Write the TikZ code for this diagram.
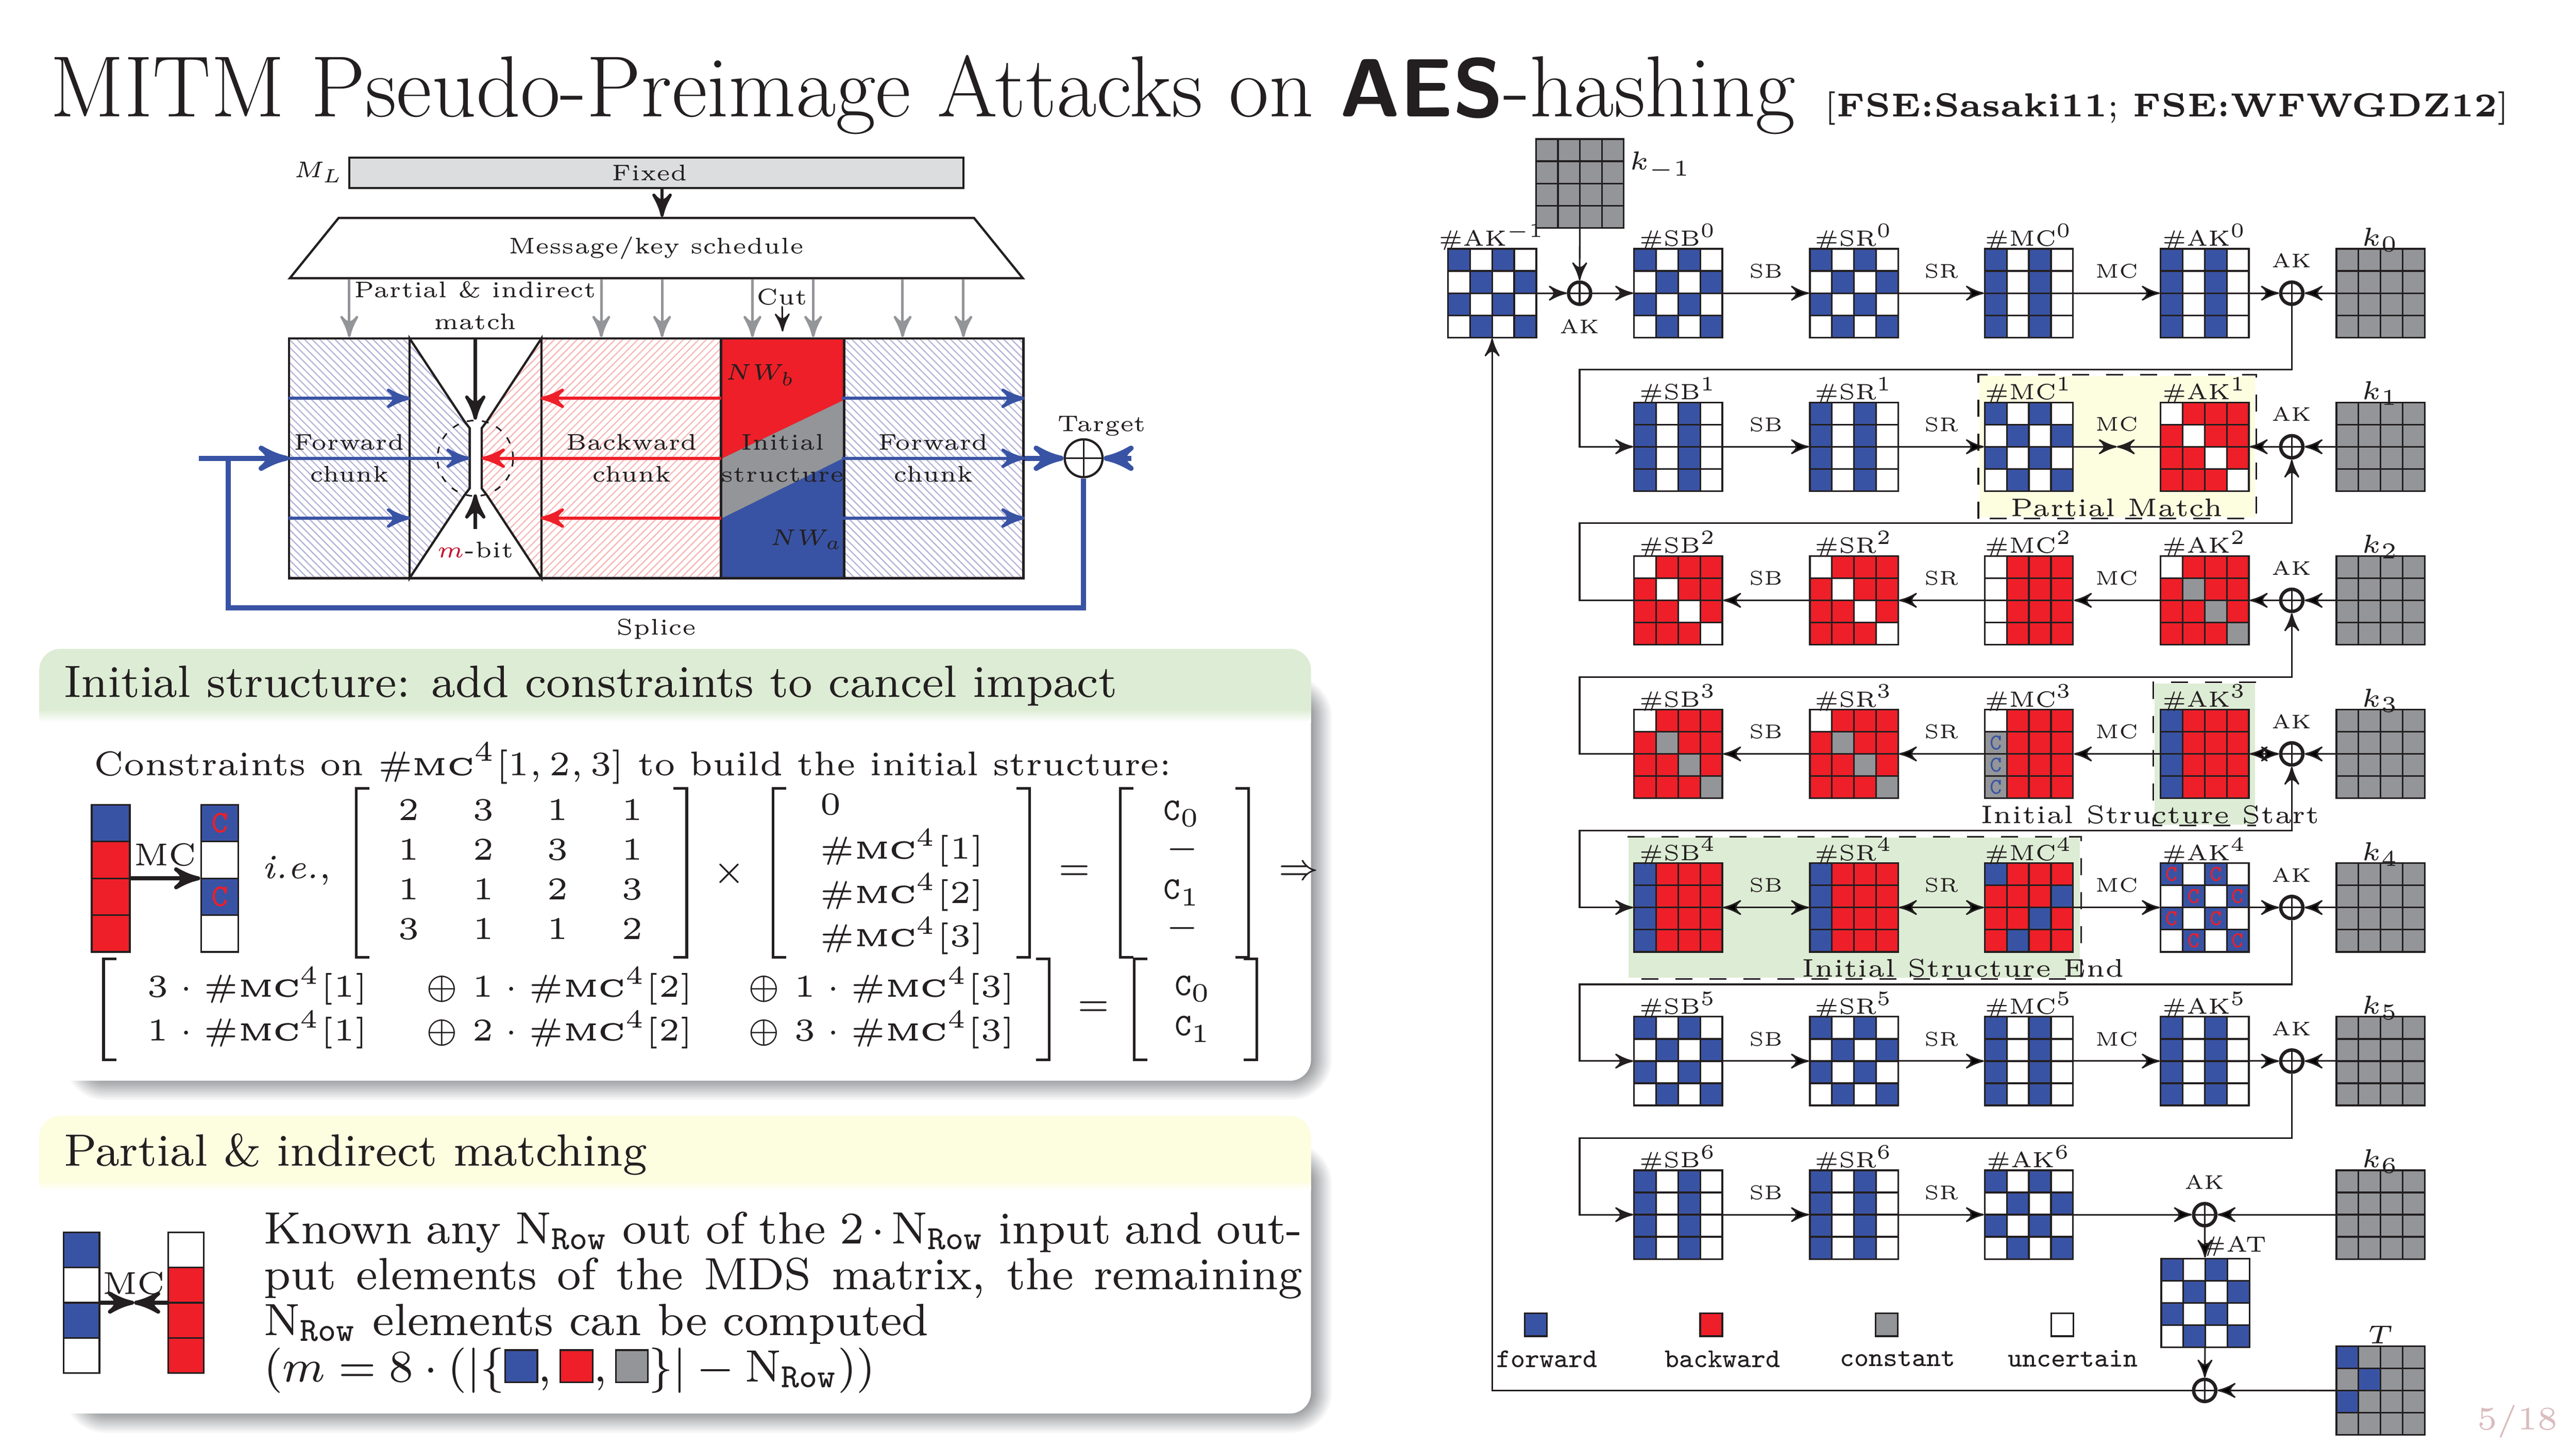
\documentclass[tikz,border=0pt]{standalone}
\usepackage{fix-cm}
\usepackage{amsmath}
\usetikzlibrary{arrows}
\usetikzlibrary{calc}
\usetikzlibrary{patterns.meta}
\usetikzlibrary{shapes.geometric}

\DeclareMathSizes{3.9}{3.9}{3.6}{3}
\DeclareMathSizes{4}{4}{3.4}{3}
\DeclareMathSizes{4.6}{4.6}{4}{3}
\DeclareMathSizes{5.6}{5.6}{4.6}{4}
\DeclareMathSizes{6.05}{6.05}{5}{4}

\definecolor{ink}{HTML}{231F20}
\definecolor{keyblue}{HTML}{3953A4}
\definecolor{keyred}{HTML}{EE1F28}
\definecolor{keygray}{HTML}{939598}
\definecolor{fixedgray}{HTML}{DCDDDE}
\definecolor{hatchblue}{HTML}{B1B0D8}
\definecolor{hatchred}{HTML}{F8B4B4}
\definecolor{zonegreen}{HTML}{DDECD4}
\definecolor{zoneyellow}{HTML}{FDFDE0}
\definecolor{shadowgray}{HTML}{939598}
\definecolor{pagepink}{HTML}{D9BCBE}
\definecolor{mbit}{HTML}{C4122F}

\newcommand{\uu}{0.29033pt}
\newcommand{\labelfont}{\fontsize{3.9}{4.4}\selectfont}
\newcommand{\opfont}{\fontsize{3.5}{4}\selectfont}
\newcommand{\keyfont}{\fontsize{4.6}{5.2}\selectfont}
\newcommand{\cellfont}{\fontsize{4}{4.5}\selectfont}
\newcommand{\diagfont}{\fontsize{4}{5.65}\selectfont}
\newcommand{\bodyfont}{\fontsize{6.05}{7}\selectfont}
\newcommand{\mtxfont}{\fontsize{5.6}{6}\selectfont}
\newcommand{\headfont}{\fontsize{8}{8.13}\selectfont}

\newcommand{\celltextp}{\textcolor{keyred}{\texttt{C}}}
\newcommand{\celltextq}{\textcolor{keyblue}{\texttt{C}}}
\newcommand{\mcterm}{\#\mbox{\fontsize{4.4}{5}\selectfont\bfseries MC}}
\newcommand{\nrow}{\mathrm{N}_{\mathtt{Row}}}
\newcommand{\kcell}[1]{{\fboxsep=0pt\fboxrule=.3pt\fcolorbox{ink}{#1}{\rule{0pt}{5.4pt}\hspace{5.4pt}}}}

\newcommand{\patchk}{b,w,b,w,w,b,w,b,b,w,b,w,w,b,w,b}
\newcommand{\patstr}{b,w,b,w,b,w,b,w,b,w,b,w,b,w,b,w}
\newcommand{\patdiw}{w,r,r,r,r,w,r,r,r,r,w,r,r,r,r,w}
\newcommand{\patdig}{w,r,r,r,r,g,r,r,r,r,g,r,r,r,r,g}
\newcommand{\patwcol}{w,r,r,r,w,r,r,r,w,r,r,r,w,r,r,r}
\newcommand{\patqcol}{w,r,r,r,q,r,r,r,q,r,r,r,q,r,r,r}
\newcommand{\patbcol}{b,r,r,r,b,r,r,r,b,r,r,r,b,r,r,r}
\newcommand{\patmcf}{b,r,r,r,r,r,r,b,r,r,b,r,r,b,r,r}
\newcommand{\patcchk}{p,w,p,w,w,p,w,p,p,w,p,w,w,p,w,p}
\newcommand{\patgry}{g,g,g,g,g,g,g,g,g,g,g,g,g,g,g,g}
\newcommand{\pattgt}{b,g,g,g,g,b,g,g,b,g,g,g,g,g,g,g}

\tikzset{
  cellbase/.style={inner sep=0pt,outer sep=0pt,draw=ink,line width=.3pt,font=\cellfont},
  cellb/.style={fill=keyblue},
  cellr/.style={fill=keyred},
  cellg/.style={fill=keygray},
  cellw/.style={fill=white},
  cellp/.style={fill=keyblue},
  cellq/.style={fill=keygray},
  gridframe/.style={draw=ink,line width=.3pt,inner sep=0pt},
  statelabel/.style={anchor=base,inner sep=0pt,font=\labelfont,text=ink},
  keylabel/.style={anchor=base,inner sep=0pt,font=\keyfont,text=ink},
  oplabel/.style={above=2.5pt,inner sep=0pt,font=\opfont,text=ink},
  aklabel/.style={inner sep=0pt,font=\opfont,text=ink},
  conn/.style={draw=ink,line width=.28pt},
  xorop/.style={circle,draw=ink,fill=white,line width=.6pt,inner sep=0pt,minimum size=13.5*\uu,
    path picture={\draw[line width=.28pt]
      (path picture bounding box.north) -- (path picture bounding box.south)
      (path picture bounding box.west) -- (path picture bounding box.east);}},
  diagtext/.style={inner sep=0pt,align=center,font=\diagfont,text=ink},
  hatchf/.style={diagtext,pattern={Lines[angle=-45,distance=.95pt,line width=.2pt]},pattern color=hatchblue},
  hatchb/.style={diagtext,pattern={Lines[angle=45,distance=.95pt,line width=.2pt]},pattern color=hatchred},
  thinblue/.style={draw=keyblue,line width=.55pt,->},
  thinred/.style={draw=keyred,line width=.55pt,->},
  thickblue/.style={draw=keyblue,line width=.9pt},
  grayarrow/.style={draw=keygray,line width=.45pt,->},
  bracket/.style={draw=ink,line width=.48pt},
  boxtext/.style={anchor=base west,inner sep=0pt,font=\bodyfont,text=ink},
  mtx/.style={anchor=base,inner sep=0pt,font=\mtxfont,text=ink},
  zonetext/.style={inner sep=0pt,font=\fontsize{4.5}{5}\selectfont,text=ink},
  legendkey/.style={draw=ink,line width=.3pt,inner sep=0pt,minimum width=13.5*\uu,minimum height=14*\uu},
  legendtext/.style={inner sep=0pt,font=\fontsize{4.8}{5}\selectfont\ttfamily,text=ink}
}

\newcommand{\cellgrid}[7]{%
  \foreach \cl [count=\n from 0] in #7 {
    \pgfmathtruncatemacro\cc{mod(\n,#4)}
    \pgfmathtruncatemacro\rr{int(\n/#4)}
    \node[cellbase,cell\cl,minimum width=#5*\uu,minimum height=#6*\uu] (#1-\n) at ({#2+(\cc+.5-#4/2)*#5},{#3+(\rr-1.5)*#6}) {\csname celltext\cl\endcsname};
  }
  \node[gridframe,minimum width=#4*#5*\uu,minimum height=4*#6*\uu] (#1) at (#2,#3) {};
}
\newcommand{\statenode}[6]{%
  \cellgrid{#1}{#2}{#3}{4}{13.43}{13.5}{#4}
  \node[statelabel] (lab#1) at ([yshift=.35pt]#1.north) {$\#\mathrm{#5}^{#6}$};
}
\newcommand{\slidebox}[6]{%
  \foreach \i in {0,...,14} {
    \pgfmathsetmacro\pc{\i*100/14}
    \pgfmathsetmacro\rd{(26-\i)*0.29033}
    \fill[shadowgray!\pc!white,rounded corners=\rd pt] (38+\i,#2+15.6+\i) rectangle (811.7-\i,#3+12.7-\i);
  }
  \fill[white,rounded corners=13*\uu] (23.9,#2) rectangle (798,#3);
  \begin{scope}
    \clip (23.9,#2) rectangle (798,#4);
    \fill[#1,rounded corners=13*\uu] (23.9,#2) rectangle (798,#4+30);
  \end{scope}
  \shade[top color=#1,bottom color=white] (23.9,#4) rectangle (798,#5);
  \node[anchor=base west,inner sep=0pt,font=\headfont,text=ink] (head#1) at (38.3,#6) {\csname boxhead#1\endcsname};
}
\newcommand{\boxheadzonegreen}{Initial structure: add constraints to cancel impact}
\newcommand{\boxheadzoneyellow}{Partial \& indirect matching}

\begin{document}
\begin{tikzpicture}[x=\uu,y=-\uu,>=stealth']
  \useasboundingbox (0,0) rectangle (1568,882);
  \fill[white] (0,0) rectangle (1568,882);

  \node[anchor=base west,inner sep=0pt,font=\fontsize{15.35}{16}\selectfont,text=ink] (slidetitle) at (30,71)
    {MITM Pseudo-Preimage Attacks on {\fontsize{14.6}{16}\selectfont\sffamily\bfseries AES}-hashing};
  \node[anchor=base west,inner sep=0pt,font=\fontsize{5.9}{8}\selectfont,text=ink] (slidecite) at (1110,71)
    {[\textbf{FSE:Sasaki11}; \textbf{FSE:WFWGDZ12}]};

  \begin{scope}
    \node[draw=ink,fill=fixedgray,line width=.4pt,inner sep=0pt,minimum width=373.8*\uu,minimum height=18.5*\uu] (fixed) at (399.5,105.25) {};
    \node[diagtext] (fixedtext) at (395.5,105.25) {Fixed};
    \node[diagtext] (mlabel) at (194,105) {$M_L$};
    \node[trapezium,draw=ink,line width=.4pt,trapezium stretches=true,trapezium left angle=45,trapezium right angle=45,inner sep=0pt,minimum width=447*\uu,minimum height=36.7*\uu,font=\diagfont,text=ink] (keysched) at (399.5,151.05) {Message/key schedule};
    \draw[->,draw=ink,line width=.55pt] (403,0 |- fixed.south) -- (403,0 |- keysched.north);

    \node[hatchf,minimum width=73.3*\uu,minimum height=146*\uu] (fwdone) at (212.65,279) {Forward\\chunk};
    \node[hatchb,minimum width=110.1*\uu,minimum height=146*\uu] (bwd) at (384.55,279) {Backward\\chunk};
    \node[hatchf,minimum width=109.8*\uu,minimum height=146*\uu] (fwdtwo) at (568.1,279) {Forward\\chunk};

    \fill[pattern={Lines[angle=-45,distance=.95pt,line width=.2pt]},pattern color=hatchblue]
      (249.3,206) -- (282.5,256.2) -- (285.9,260.7) -- (285.9,297.3) -- (282.5,301.8) -- (249.3,352) -- cycle;
    \fill[pattern={Lines[angle=45,distance=.95pt,line width=.2pt]},pattern color=hatchred]
      (329.6,206) -- (296.6,256.2) -- (293.2,260.7) -- (293.2,297.3) -- (296.6,301.8) -- (329.6,352) -- cycle;
    \draw[draw=ink,line width=.4pt]
      (249.3,206) -- (282.5,256.2) -- (285.9,260.7) -- (285.9,297.3) -- (282.5,301.8) -- (249.3,352) -- cycle
      (329.6,206) -- (296.6,256.2) -- (293.2,260.7) -- (293.2,297.3) -- (296.6,301.8) -- (329.6,352) -- cycle;

    \fill[keyblue] (439.6,206) rectangle (513.2,352);
    \fill[keygray] (439.6,279) -- (513.2,243.7) -- (513.2,279) -- (439.6,315.4) -- cycle;
    \fill[keyred] (439.6,206) -- (513.2,206) -- (513.2,243.7) -- (439.6,279) -- cycle;
    \node[inner sep=0pt,minimum width=73.6*\uu,minimum height=146*\uu] (initst) at (476.4,279) {};
    \node[diagtext] (inittext) at (476.4,279) {Initial\\structure};
    \node[diagtext] (nwb) at (463,228.4) {$NW_b$};
    \node[diagtext] (nwa) at (491,328.5) {$NW_a$};
    \node[draw=ink,line width=.4pt,inner sep=0pt,minimum width=447*\uu,minimum height=146*\uu] (mainbox) at (399.5,279) {};
    \draw[draw=ink,line width=.4pt] (initst.north west) -- (initst.south west) (initst.north east) -- (initst.south east);

    \foreach \gx in {212.6,366,403,458,495,549.4,586.4}
      \draw[grayarrow] (\gx,0 |- keysched.south) -- (\gx,0 |- mainbox.north);

    \node[diagtext] (pimatch) at (289.3,186) {Partial \& indirect\\match};
    \node[diagtext] (cutlabel) at (476,180.7) {Cut};
    \draw[->,draw=ink,line width=.28pt,shorten >=1pt] (cutlabel) -- (initst.north);

    \coordinate (waistl) at (285.9,279);
    \coordinate (waistr) at (293.2,279);
    \coordinate (waisttop) at (289.3,255.5);
    \coordinate (waistbot) at (289.3,301);
    \coordinate (mbitfoot) at (289.3,322);
    \coordinate (inlet) at (121,279);
    \coordinate (outlet) at (688.6,279);
    \coordinate (splicea) at (139,279);
    \coordinate (spliceb) at (139,370);
    \node[diagtext] (mbitlabel) at (289.3,334.8) {$\textcolor{mbit}{m}$-bit};
    \node[circle,draw=ink,line width=.28pt,dash pattern=on 1.2pt off 1.5pt,inner sep=0pt,minimum size=46*\uu] (matchring) at (289.3,279) {};
    \draw[->,draw=ink,line width=.6pt] (289.3,0 |- mainbox.north) -- (waisttop);
    \draw[->,draw=ink,line width=.6pt] (mbitfoot) -- (waistbot);

    \foreach \ay in {242.5,315.4} {
      \draw[thinblue] (fwdone.west |- 0,\ay) -- (fwdone.east |- 0,\ay);
      \draw[thinblue] (fwdtwo.west |- 0,\ay) -- (fwdtwo.east |- 0,\ay);
      \draw[thinred] (initst.west |- 0,\ay) -- (bwd.west |- 0,\ay);
    }
    \draw[thinblue] (fwdone.west) -- (waistl);
    \draw[thinblue] (fwdtwo.west) -- (fwdtwo.east);
    \draw[thinred] (initst.west) -- (waistr);

    \node[xorop,line width=.4pt,minimum size=23*\uu] (xtarget) at (659.6,279) {};
    \draw[thickblue,->] (inlet) -- (fwdone.west);
    \draw[thickblue,->] (fwdtwo.east) -- (xtarget);
    \draw[thickblue,->] (outlet) -- (xtarget);
    \draw[thickblue] (splicea) -- (spliceb) -| (xtarget);
    \node[diagtext] (targetlabel) at (670.7,259.5) {Target};
    \node[diagtext] (splicelabel) at (399.5,383) {Splice};
  \end{scope}

  \begin{scope}
    \slidebox{zonegreen}{395}{658}{432}{439.8}{424.6}
    \node[boxtext] (consline) at (56.6,472.1) {Constraints on $\mcterm^4[1,2,3]$ to build the initial structure:};

    \renewcommand{\cellfont}{\fontsize{5.6}{6}\selectfont}
    \newcommand{\patmcin}{b,r,r,r}
    \newcommand{\patmcout}{p,w,p,w}
    \cellgrid{mcin}{67.4}{534.75}{1}{23.2}{22.4}{\patmcin}
    \cellgrid{mcout}{133.7}{534.75}{1}{22.6}{22.4}{\patmcout}
    \draw[->,draw=ink,line width=.7pt] (mcin) -- (mcout);
    \node[inner sep=0pt,font=\mtxfont,text=ink] (mclabel) at (100.7,520.5) {MC};
    \node[inner sep=0pt,font=\bodyfont,text=ink] (ielabel) at (180.7,530) {\textit{i.e.},};

    \draw[bracket] (224.8,480) -- (216.8,480) -- (216.8,582.8) -- (224.8,582.8);
    \draw[bracket] (410,480) -- (418,480) -- (418,582.8) -- (410,582.8);
    \foreach \vals [count=\r from 0] in {{2,3,1,1},{1,2,3,1},{1,1,2,3},{3,1,1,2}}
      \foreach \v [count=\q from 0] in \vals
        \node[mtx] (m\r\q) at (248.8+45.4*\q,499.4+24.2*\r) {$\v$};
    \node[inner sep=0pt,font=\bodyfont,text=ink] (timeslabel) at (443.8,531.7) {$\times$};

    \draw[bracket] (478.5,480) -- (470.5,480) -- (470.5,582.8) -- (478.5,582.8);
    \draw[bracket] (618.8,480) -- (626.8,480) -- (626.8,582.8) -- (618.8,582.8);
    \node[mtx,anchor=base west] (va) at (498.5,496) {$0$};
    \foreach \r/\yy in {1/523,2/549.8,3/576.4}
      \node[mtx,anchor=base west] (vb\r) at (498.5,\yy) {$\mcterm^4[\r]$};
    \node[inner sep=0pt,font=\bodyfont,text=ink] (eqa) at (654.1,531) {$=$};

    \draw[bracket] (690,480) -- (682,480) -- (682,582.8) -- (690,582.8);
    \draw[bracket] (752,480) -- (760,480) -- (760,582.8) -- (752,582.8);
    \node[mtx] (ca) at (719.7,499.4) {$\mathtt{C}_0$};
    \node[mtx] (da) at (719.7,522) {$-$};
    \node[mtx] (cb) at (719.7,547.5) {$\mathtt{C}_1$};
    \node[mtx] (db) at (719.7,570) {$-$};
    \node[inner sep=0pt,font=\bodyfont,text=ink] (implies) at (790.5,531) {$\Rightarrow$};

    \draw[bracket] (71,583.8) -- (63,583.8) -- (63,645.2) -- (71,645.2);
    \draw[bracket] (630.7,583.8) -- (638.7,583.8) -- (638.7,645.2) -- (630.7,645.2);
    \node[mtx,anchor=base west] (ea) at (88.8,607) {$3\cdot\mcterm^4[1]$};
    \node[mtx,anchor=base west] (eb) at (258,607) {$\oplus\;1\cdot\mcterm^4[2]$};
    \node[mtx,anchor=base west] (ec) at (454,607) {$\oplus\;1\cdot\mcterm^4[3]$};
    \node[mtx,anchor=base west] (fa) at (88.8,633.7) {$1\cdot\mcterm^4[1]$};
    \node[mtx,anchor=base west] (fb) at (258,633.7) {$\oplus\;2\cdot\mcterm^4[2]$};
    \node[mtx,anchor=base west] (fc) at (454,633.7) {$\oplus\;3\cdot\mcterm^4[3]$};
    \node[inner sep=0pt,font=\bodyfont,text=ink] (eqb) at (665.7,614) {$=$};
    \draw[bracket] (698.5,583.8) -- (690.5,583.8) -- (690.5,645.2) -- (698.5,645.2);
    \draw[bracket] (757,583.8) -- (765,583.8) -- (765,645.2) -- (757,645.2);
    \node[mtx] (cc) at (726.4,606) {$\mathtt{C}_0$};
    \node[mtx] (cd) at (726.4,630.6) {$\mathtt{C}_1$};
  \end{scope}

  \begin{scope}
    \slidebox{zoneyellow}{679.3}{860.6}{719.2}{724.6}{709.7}
    \newcommand{\patpia}{b,w,b,w}
    \newcommand{\patpib}{w,r,r,r}
    \cellgrid{piin}{49.65}{793.1}{1}{21.7}{21.4}{\patpia}
    \cellgrid{piout}{113.15}{793.1}{1}{21.7}{21.4}{\patpib}
    \coordinate (pimid) at (81.6,793.1);
    \draw[->,draw=ink,line width=.7pt] (piin) -- (pimid);
    \draw[->,draw=ink,line width=.7pt] (piout) -- (pimid);
    \node[inner sep=0pt,font=\mtxfont,text=ink] (pilabel) at (81.6,781.4) {MC};
    \node[anchor=north west,inner sep=0pt,text width=183.5pt,align=justify,font=\headfont,text=ink] (pitext) at (160,737) {%
      \lineskiplimit=-20pt
      Known any $\nrow$ out of the $2\cdot\nrow$ input and out-\linebreak
      put elements of the MDS matrix, the remaining\linebreak
      $\nrow$ elements can be computed\\
      $(m=8\cdot(|\{\kcell{keyblue},\kcell{keyred},\kcell{keygray}\}|-\nrow))$};
  \end{scope}

  \begin{scope}
    \node[fill=zoneyellow,draw=none,inner sep=0pt,minimum width=167.7*\uu,minimum height=86.1*\uu] (pmzone) at (1288.75,271.95) {};
    \node[fill=zonegreen,draw=none,inner sep=0pt,minimum width=61*\uu,minimum height=85.8*\uu] (iszone) at (1342,459.1) {};
    \node[fill=zonegreen,draw=none,inner sep=0pt,minimum width=274.7*\uu,minimum height=85.3*\uu] (iezone) at (1128.75,552.65) {};
    \draw[conn,dashed] (pmzone.south west) rectangle (pmzone.north east);
    \draw[conn,dashed] (iszone.north east) -- (iszone.north west) -- (iszone.south west) -- (iszone.south east);
    \draw[conn,dashed] (iezone.north west) -- (iezone.north east) -- (iezone.south east) -- (iezone.south west);

    \statenode{akm}{908.25}{178.5}{\patchk}{AK}{-1}
    \cellgrid{km}{961.7}{111.7}{4}{13.33}{13.5}{\patgry}
    \node[anchor=west,inner sep=0pt,font=\keyfont,text=ink] (labkm) at (991,101) {$k_{-1}$};
    \node[xorop] (xm) at (961.5,178.5) {};
    \node[aklabel] (labxm) at (961.5,198.7) {AK};

    \foreach \r/\ry in {0/178.5,1/272,2/365.5,3/459,4/552.5,5/646} {
      \node[xorop] (x\r) at (1395,\ry) {};
      \node[aklabel] (labx\r) at (1395,\ry-19.8) {AK};
    }
    \foreach \r/\ry in {0/178.5,1/272,2/365.5,3/459,4/552.5,5/646,6/739.5} {
      \cellgrid{k\r}{1449}{\ry}{4}{13.43}{13.5}{\patgry}
      \node[keylabel] (labk\r) at ([yshift=.35pt]k\r.north) {$k_{\r}$};
    }

    \statenode{sb0}{1021.5}{178.5}{\patchk}{SB}{0}
    \statenode{sr0}{1128.5}{178.5}{\patchk}{SR}{0}
    \statenode{mc0}{1235}{178.5}{\patstr}{MC}{0}
    \statenode{ak0}{1342}{178.5}{\patstr}{AK}{0}

    \statenode{sb1}{1021.5}{272}{\patstr}{SB}{1}
    \statenode{sr1}{1128.5}{272}{\patstr}{SR}{1}
    \statenode{mc1}{1235}{272}{\patchk}{MC}{1}
    \statenode{ak1}{1342}{272}{\patdiw}{AK}{1}

    \statenode{sb2}{1021.5}{365.5}{\patdiw}{SB}{2}
    \statenode{sr2}{1128.5}{365.5}{\patdiw}{SR}{2}
    \statenode{mc2}{1235}{365.5}{\patwcol}{MC}{2}
    \statenode{ak2}{1342}{365.5}{\patdig}{AK}{2}

    \statenode{sb3}{1021.5}{459}{\patdig}{SB}{3}
    \statenode{sr3}{1128.5}{459}{\patdig}{SR}{3}
    \statenode{mc3}{1235}{459}{\patqcol}{MC}{3}
    \statenode{ak3}{1342}{459}{\patbcol}{AK}{3}

    \statenode{sb4}{1021.5}{552.5}{\patbcol}{SB}{4}
    \statenode{sr4}{1128.5}{552.5}{\patbcol}{SR}{4}
    \statenode{mc4}{1235}{552.5}{\patmcf}{MC}{4}
    \statenode{ak4}{1342}{552.5}{\patcchk}{AK}{4}

    \statenode{sb5}{1021.5}{646}{\patchk}{SB}{5}
    \statenode{sr5}{1128.5}{646}{\patchk}{SR}{5}
    \statenode{mc5}{1235}{646}{\patstr}{MC}{5}
    \statenode{ak5}{1342}{646}{\patstr}{AK}{5}

    \statenode{sb6}{1021.5}{739.5}{\patstr}{SB}{6}
    \statenode{sr6}{1128.5}{739.5}{\patstr}{SR}{6}
    \statenode{ak6}{1235}{739.5}{\patchk}{AK}{6}
    \node[xorop] (x6) at (1342,739.5) {};
    \node[aklabel] (labx6) at (1342,719.7) {AK};

    \cellgrid{at}{1342.4}{793.2}{4}{13.43}{13.5}{\patchk}
    \node[inner sep=0pt,font=\labelfont,text=ink] (labat) at (1360,758.8) {$\#\mathrm{AT}$};
    \cellgrid{tgt}{1449}{846.6}{4}{13.43}{13.5}{\pattgt}
    \node[keylabel] (labtgt) at ([yshift=.35pt]tgt.north) {$T$};
    \node[xorop] (xo) at (1342,846.5) {};

    \draw[conn,->] (akm) -- (xm);
    \draw[conn,->] (km) -- (xm);
    \draw[conn,->] (xm) -- (sb0);
    \path[conn] (sb0) edge[->] node[oplabel] (opa) {SB} (sr0)
      (sr0) edge[->] node[oplabel] (opb) {SR} (mc0)
      (mc0) edge[->] node[oplabel] (opc) {MC} (ak0)
      (ak0) edge[->] (x0)
      (k0) edge[->] (x0);

    \coordinate (turn0) at (961.5,225);
    \draw[conn,->] (x0) |- (turn0) |- (sb1);
    \path[conn] (sb1) edge[->] node[oplabel] (opd) {SB} (sr1)
      (sr1) edge[->] node[oplabel] (ope) {SR} (mc1)
      (x1) edge[->] (ak1)
      (k1) edge[->] (x1);
    \coordinate (mid1) at ($(mc1.east)!.5!(ak1.west)$);
    \draw[conn,->] (mc1) -- (mid1);
    \draw[conn,->] (ak1) -- (mid1);
    \node[oplabel] (opf) at (mid1) {MC};

    \coordinate (turn1) at (961.5,318.6);
    \draw[conn,->] (sb2) -| (turn1) -| (x1);
    \path[conn] (sr2) edge[->] node[oplabel] (opg) {SB} (sb2)
      (mc2) edge[->] node[oplabel] (oph) {SR} (sr2)
      (ak2) edge[->] node[oplabel] (opi) {MC} (mc2)
      (x2) edge[->] (ak2)
      (k2) edge[->] (x2);

    \coordinate (turn2) at (961.5,412.1);
    \draw[conn,->] (sb3) -| (turn2) -| (x2);
    \path[conn] (sr3) edge[->] node[oplabel] (opj) {SB} (sb3)
      (mc3) edge[->] node[oplabel] (opk) {SR} (sr3)
      (ak3) edge[->] node[oplabel] (opl) {MC} (mc3)
      (x3) edge[<->] (ak3)
      (k3) edge[->] (x3);

    \coordinate (turn3) at (961.5,505.7);
    \draw[conn,<->] (x3) |- (turn3) |- (sb4);
    \path[conn] (sb4) edge[<->] node[oplabel] (opm) {SB} (sr4)
      (sr4) edge[<->] node[oplabel] (opn) {SR} (mc4)
      (mc4) edge[->] node[oplabel] (opo) {MC} (ak4)
      (ak4) edge[->] (x4)
      (k4) edge[->] (x4);

    \coordinate (turn4) at (961.5,599.3);
    \draw[conn,->] (x4) |- (turn4) |- (sb5);
    \path[conn] (sb5) edge[->] node[oplabel] (opp) {SB} (sr5)
      (sr5) edge[->] node[oplabel] (opq) {SR} (mc5)
      (mc5) edge[->] node[oplabel] (opr) {MC} (ak5)
      (ak5) edge[->] (x5)
      (k5) edge[->] (x5);

    \coordinate (turn5) at (961.5,692.9);
    \draw[conn,->] (x5) |- (turn5) |- (sb6);
    \path[conn] (sb6) edge[->] node[oplabel] (ops) {SB} (sr6)
      (sr6) edge[->] node[oplabel] (opt) {SR} (ak6)
      (ak6) edge[->] (x6)
      (k6) edge[->] (x6)
      (x6) edge[->] (at)
      (at) edge[->] (xo)
      (tgt) edge[->] (xo);
    \draw[conn,->] (xo) -| (akm);

    \node[zonetext] (pmlabel) at (1288.5,309) {Partial Match};
    \node[zonetext] (islabel) at (1308.7,496) {Initial Structure Start};
    \node[zonetext] (ielabel2) at (1195,589.5) {Initial Structure End};

    \node[legendkey,fill=keyblue] (lega) at (934.8,806.5) {};
    \node[legendkey,fill=keyred] (legb) at (1041.6,806.5) {};
    \node[legendkey,fill=keygray] (legc) at (1148.3,806.5) {};
    \node[legendkey,fill=white] (legd) at (1255.3,806.5) {};
    \node[legendtext] (legat) at (941.5,827.3) {forward};
    \node[legendtext] (legbt) at (1048.5,827.3) {backward};
    \node[legendtext] (legct) at (1155.2,827.3) {constant};
    \node[legendtext] (legdt) at (1261.8,827.3) {uncertain};
  \end{scope}

  \node[inner sep=0pt,font=\fontsize{5.8}{7}\selectfont,text=pagepink] (pagenum) at (1532.5,865.5) {5/18};
\end{tikzpicture}
\end{document}
